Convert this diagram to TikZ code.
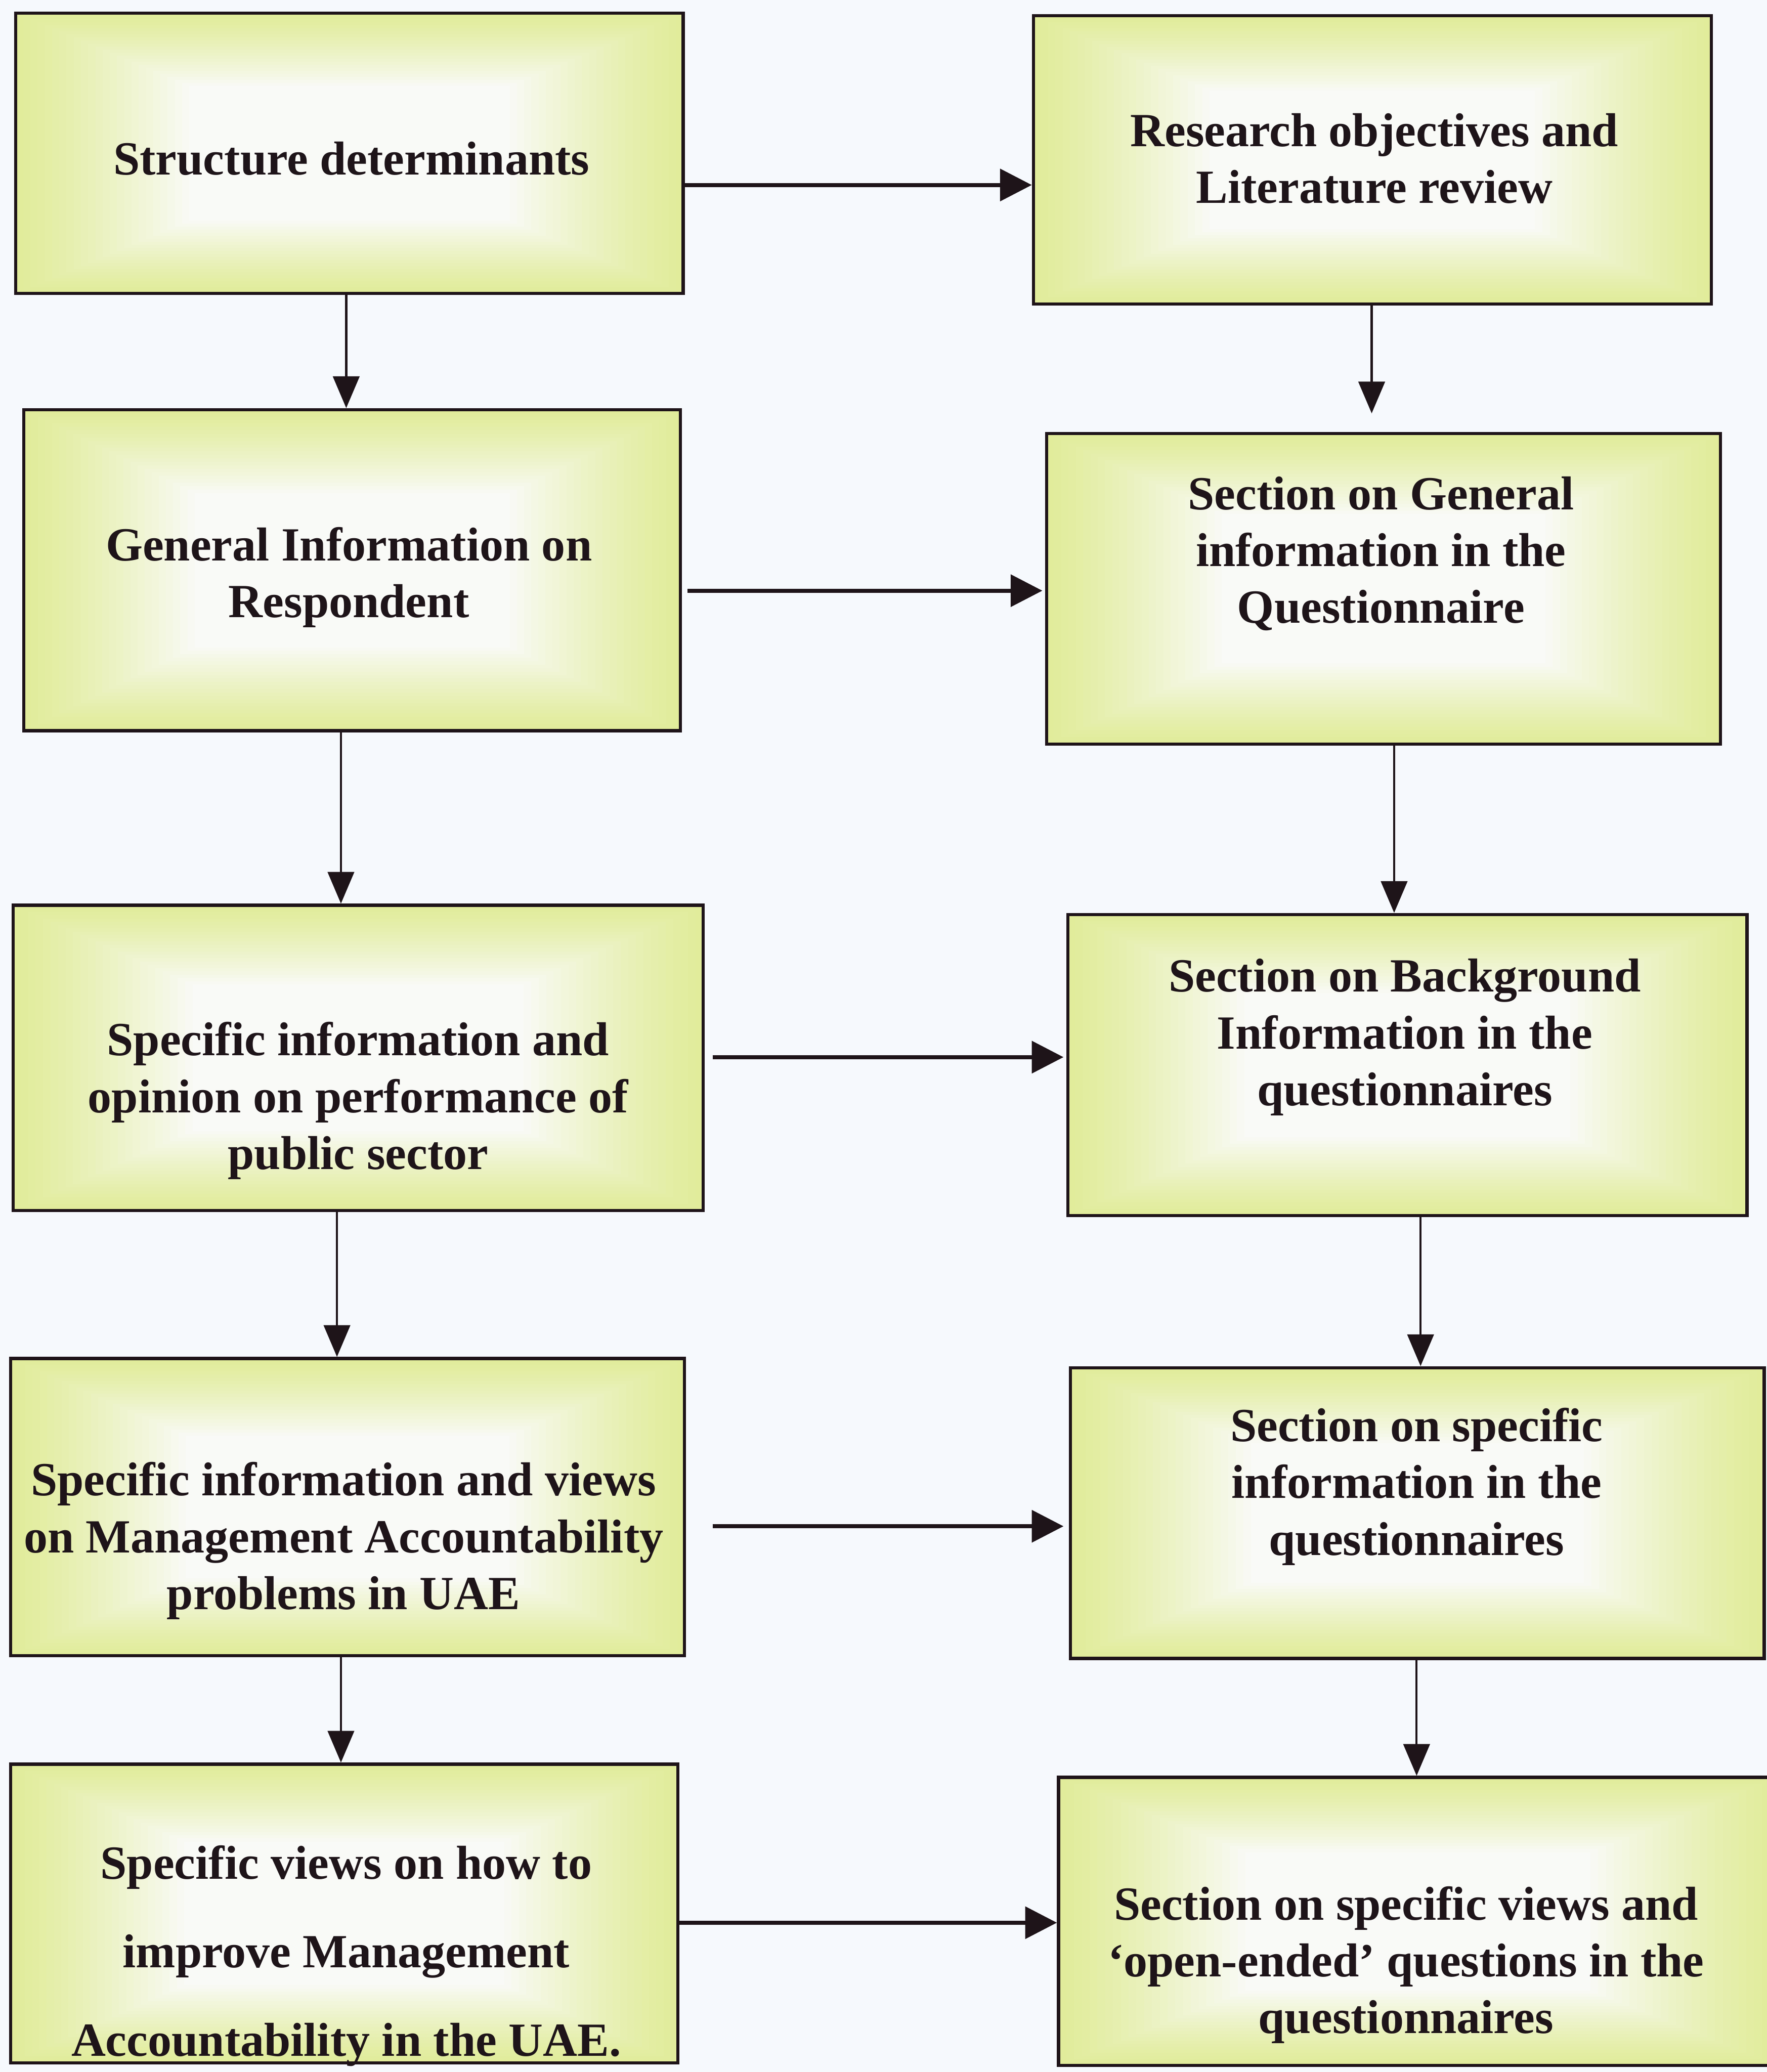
\documentclass[tikz,border=0pt]{standalone}
\usepackage{fontspec}
\setmainfont{Liberation Serif}
\usetikzlibrary{arrows.meta,fit}

\definecolor{pagebg}{RGB}{246,249,253}
\definecolor{boxedge}{RGB}{225,236,155}
\definecolor{boxcore}{RGB}{249,250,247}
\definecolor{ink}{RGB}{30,20,25}

\tikzset{
  frame/.style={draw=ink, line width=1.2pt, inner sep=0pt},
  boxtext/.style={align=center, inner sep=0pt, text=ink,
    font=\bfseries\fontsize{18}{21.5}\selectfont},
  widetext/.style={boxtext, font=\bfseries\fontsize{18}{33.5}\selectfont},
  harrow/.style={draw=ink, line width=1.5pt, -{Triangle[length=12pt,width=12pt]}},
  varrow/.style={draw=ink, line width=0.8pt, -{Triangle[length=12pt,width=10pt]}},
}

% Box filled with a rectangular gradient (yellow-green rim, pale centre)
% #1 name, (#2,#3) top-left corner, (#4,#5) bottom-right corner
\newcommand\gradbox[5]{%
  \foreach \k in {0,...,24}{%
    \pgfmathsetmacro\fx{0.26*\k/24*(#4-#2)}%
    \pgfmathsetmacro\fy{0.26*\k/24*(#5-#3)}%
    \pgfmathtruncatemacro\mixp{100*(\k/24)^1.2}%
    \fill[boxcore!\mixp!boxedge] (#2+\fx,#3+\fy) rectangle (#4-\fx,#5-\fy);
  }%
  \node[frame, fit={(#2,#3) (#4,#5)}] (#1) {};
}

\begin{document}
\begin{tikzpicture}[x=0.5pt, y=-0.5pt]
\useasboundingbox (0,0) rectangle (1337,1568);
\fill[pagebg] (0,0) rectangle (1337,1568);

% left column
\gradbox{L1}{12}{10}{517}{222}
\gradbox{L2}{18}{310}{515}{553}
\gradbox{L3}{10}{685}{532}{916}
\gradbox{L4}{8}{1028}{518}{1253}
\gradbox{L5}{8}{1335}{513}{1561}
% right column
\gradbox{R1}{782}{12}{1295}{230}
\gradbox{R2}{792}{328}{1302}{563}
\gradbox{R3}{808}{692}{1322}{920}
\gradbox{R4}{810}{1035}{1335}{1255}
\gradbox{R5}{801}{1345}{1345}{1563}

% labels
\node[boxtext] (tL1) at (266,120) {Structure determinants};
\node[boxtext] (tR1) at (1040,120) {Research objectives and\\Literature review};
\node[boxtext] (tL2) at (264,437) {General Information on\\Respondent};
\node[boxtext] (tR2) at (1045,419) {Section on General\\information in the\\Questionnaire};
\node[boxtext] (tL3) at (271,833) {Specific information and\\opinion on performance of\\public sector};
\node[boxtext] (tR3) at (1063,785) {Section on Background\\Information in the\\questionnaires};
\node[boxtext] (tL4) at (260,1166) {Specific information and views\\on Management Accountability\\problems in UAE};
\node[boxtext] (tR4) at (1072,1125) {Section on specific\\information in the\\questionnaires};
\node[widetext] (tL5) at (262,1480) {Specific views on how to\\improve Management\\Accountability in the UAE.};
\node[boxtext] (tR5) at (1064,1487) {Section on specific views and\\‘open-ended’ questions in the\\questionnaires};

% left-to-right connectors
\draw[harrow] (L1.east |- 0,140) -- (R1.west |- 0,140);
\draw[harrow, shorten <=2pt, shorten >=1pt] (L2.east |- 0,447) -- (R2.west |- 0,447);
\draw[harrow, shorten <=3pt, shorten >=1pt] (L3.east |- 0,800) -- (R3.west |- 0,800);
\draw[harrow, shorten <=10pt, shorten >=2pt] (L4.east |- 0,1155) -- (R4.west |- 0,1155);
\draw[harrow] (L5.east |- 0,1455) -- (R5.west |- 0,1455);

% downward connectors, left column
\draw[varrow] (L1.south -| 262,0) -- (L2.north -| 262,0);
\draw[varrow] (L2.south -| 258,0) -- (L3.north -| 258,0);
\draw[varrow] (L3.south -| 255,0) -- (L4.north -| 255,0);
\draw[varrow] (L4.south -| 258,0) -- (L5.north -| 258,0);
% downward connectors, right column
\draw[varrow, shorten >=7pt] (R1.south -| 1038,0) -- (R2.north -| 1038,0);
\draw[varrow] (R2.south -| 1055,0) -- (R3.north -| 1055,0);
\draw[varrow] (R3.south -| 1075,0) -- (R4.north -| 1075,0);
\draw[varrow] (R4.south -| 1072,0) -- (R5.north -| 1072,0);
\end{tikzpicture}
\end{document}
